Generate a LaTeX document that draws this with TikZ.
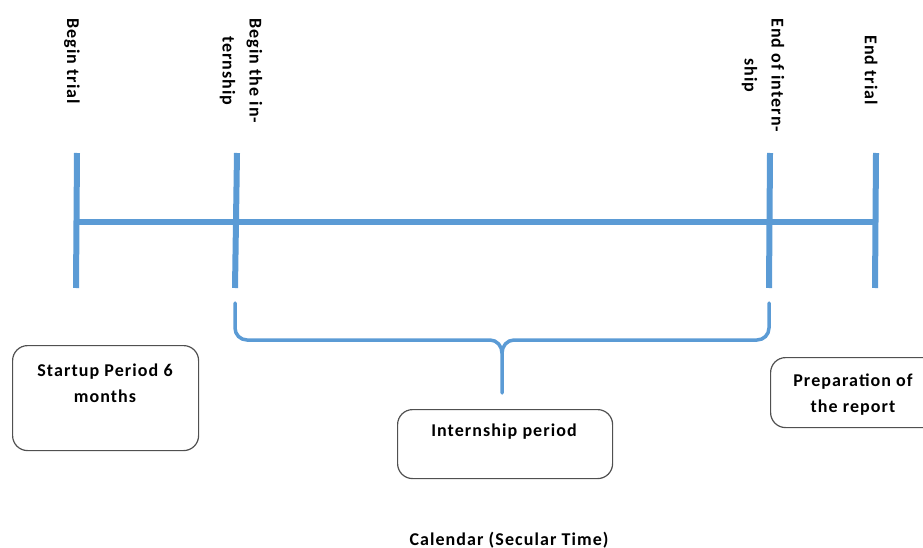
\documentclass[tikz,border=0pt]{standalone}
\usepackage{fontspec}
\setmainfont{Carlito}[LetterSpace=6]
\definecolor{tlblue}{RGB}{91,155,213}
\definecolor{boxgray}{RGB}{80,80,80}
\begin{document}
\begin{tikzpicture}[x=1pt,y=-1pt,
  tline/.style={draw=tlblue,line width=6pt},
  bracepath/.style={draw=tlblue,line width=3.5pt},
  roundbox/.style={draw=boxgray,line width=1.2pt,rounded corners=15pt,fill=white,inner sep=0pt},
  lbl/.style={font=\bfseries\fontsize{18}{26}\selectfont,align=center,inner sep=0pt},
  vlbl/.style={lbl,font=\bfseries\fontsize{18}{27}\selectfont,rotate=-90,anchor=west}]
\useasboundingbox (0,0) rectangle (923,548);
% ticks
\coordinate (t1a) at (77,153); \coordinate (t1b) at (76,288);
\coordinate (t2a) at (237,153); \coordinate (t2b) at (235,288);
\coordinate (t3a) at (770,153); \coordinate (t3b) at (769,288);
\coordinate (t4a) at (876,153); \coordinate (t4b) at (875,288);
\coordinate (hl) at (76.5,222); \coordinate (hr) at (875.5,222);
\draw[tline] (t1a) -- (t1b);
\draw[tline] (t2a) -- (t2b);
\draw[tline] (t3a) -- (t3b);
\draw[tline] (t4a) -- (t4b);
\draw[tline] (hl) -- (hr);
% labels
\node[vlbl] (lb1) at (72,18) {Begin trial};
\node[vlbl] (lb2) at (241,18) {Begin the in-\\ternship};
\node[vlbl] (lb3) at (763,18) {End of intern-\\ship};
\node[vlbl] (lb4) at (871,35) {End trial};
% brace
\coordinate (bl) at (235,303);
\coordinate (br) at (769,303);
\coordinate (btip) at (502,393);
\draw[bracepath,line cap=round] (bl) -- (235,328) to[out=-90,in=180] (247,340) -- (490,340)
  to[out=0,in=90] (502,353) -- (btip);
\draw[bracepath,line cap=round] (br) -- (769,328) to[out=-90,in=0] (757,340) -- (514,340)
  to[out=180,in=90] (502,353);
% boxes
\node[roundbox,anchor=north west,minimum width=186pt,minimum height=105pt] (startup) at (12,345) {};
\node[lbl,anchor=north] (startuptxt) at (105,364) {Startup Period 6\\months};
\node[roundbox,anchor=north west,minimum width=215pt,minimum height=69pt] (intern) at (397,409) {};
\node[lbl,anchor=north] (interntxt) at (504,424) {Internship period};
\node[roundbox,anchor=north west,minimum width=190pt,minimum height=70pt] (prep) at (770,357) {};
\node[lbl,anchor=north] (preptxt) at (853,374) {Preparation of\\the report};
\node[lbl,anchor=base] (cal) at (509,545) {Calendar (Secular Time)};
\end{tikzpicture}
\end{document}
